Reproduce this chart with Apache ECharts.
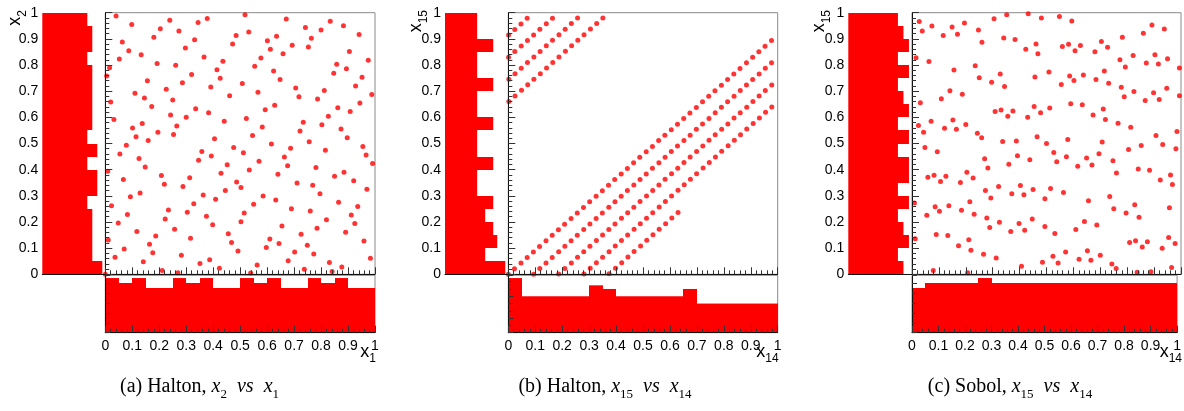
<!DOCTYPE html>
<html><head><meta charset="utf-8">
<script src="https://cdn.jsdelivr.net/npm/echarts@6.0.0/dist/echarts.min.js"></script>
<style>html,body{margin:0;padding:0;background:#fff}#c{width:1184px;height:411px}</style>
</head><body><div id="c"></div>
<script>
// ---------- data ----------
const binEdges = [0,0.05,0.1,0.15,0.2,0.25,0.3,0.35,0.4,0.45,0.5,0.55,0.6,0.65,0.7,0.75,0.8,0.85,0.9,0.95];
const BIN = 0.05;

const haltonX1Counts  = [11,10,11,9,9, 11,10,11,9,9, 11,10,11,9,9, 11,10,11,9,9];
const haltonX2Counts  = [12,10,10,10,10,9,11,11,9,11,9,10,10,10,10,10,9,10,10,9];
const halton14Counts  = [15,10,10,10,10,10,13,12,10,10,10,10,10,12,8,8,8,8,8,8];
const halton15Counts  = [15,10,13,12,10,12,8,8,12,8,8,12,8,8,12,8,8,12,8,8];
const sobol14Counts   = [9,10,10,10,10,11,10,10,10,10,10,10,10,10,10,10,10,10,10,10];
const sobol15Counts   = [10,9,11,10,9,11,9,11,11,9,11,9,11,10,9,11,9,11,10,9];

const haltonA = [[0,0],
[0.040,0.987],[0.098,0.955],[0.239,0.971],[0.344,0.963],[0.378,0.978],[0.204,0.939],[0.273,0.930],[0.180,0.906],[0.331,0.897],[0.485,0.913],[0.063,0.888],[0.472,0.880],[0.297,0.865],[0.087,0.855],[0.133,0.839],[0.366,0.831],[0.052,0.823],[0.436,0.814],[0.192,0.806],[0.261,0.799],[0.016,0.790],[0.414,0.782],[0.005,0.758],[0.320,0.764],[0.426,0.749],[0.156,0.740],[0.286,0.732],[0.391,0.716],[0.226,0.707],[0.110,0.692],[0.461,0.683],[0.145,0.674],[0.250,0.666],[0.020,0.659],[0.172,0.641],[0.335,0.633],[0.383,0.618],[0.242,0.609],[0.300,0.600],[0.032,0.592],[0.441,0.585],[0.137,0.576],[0.265,0.567],[0.101,0.559],[0.195,0.543],[0.253,0.534],[0.114,0.526],[0.405,0.518],[0.159,0.511],
[0.518,0.992],[0.671,0.976],[0.834,0.967],[0.742,0.943],[0.800,0.934],[0.883,0.950],[0.532,0.926],[0.635,0.910],[0.601,0.893],[0.764,0.902],[0.941,0.917],[0.693,0.876],[0.753,0.869],[0.612,0.860],[0.659,0.843],[0.905,0.852],[0.577,0.827],[0.975,0.818],[0.858,0.803],[0.554,0.795],[0.894,0.786],[0.624,0.777],[0.847,0.769],[0.952,0.753],[0.648,0.745],[0.508,0.729],[0.928,0.720],[0.706,0.712],[0.812,0.703],[0.566,0.696],[0.988,0.687],[0.718,0.679],[0.787,0.670],[0.944,0.655],[0.628,0.646],[0.862,0.637],[0.593,0.629],[0.908,0.622],[0.523,0.596],[0.827,0.604],[0.734,0.581],[0.803,0.572],[0.582,0.563],[0.874,0.555],[0.722,0.548],[0.546,0.531],[0.897,0.522],[0.756,0.507],
[0.078,0.493],[0.054,0.460],[0.125,0.443],[0.358,0.469],[0.393,0.452],[0.476,0.485],[0.346,0.436],[0.148,0.410],[0.452,0.419],[0.009,0.394],[0.429,0.386],[0.208,0.378],[0.313,0.369],[0.067,0.362],[0.487,0.353],[0.219,0.344],[0.288,0.336],[0.445,0.320],[0.363,0.303],[0.129,0.311],[0.093,0.296],[0.409,0.287],[0.023,0.262],[0.328,0.270],[0.234,0.246],[0.082,0.229],[0.304,0.237],[0.375,0.222],[0.222,0.211],[0.048,0.196],[0.398,0.189],[0.257,0.172],[0.117,0.164],[0.187,0.146],[0.456,0.155],[0.011,0.131],[0.316,0.138],[0.468,0.122],[0.164,0.115],[0.070,0.097],[0.492,0.089],[0.176,0.082],[0.282,0.073],[0.036,0.065],[0.387,0.056],[0.141,0.048],[0.351,0.041],[0.423,0.023],[0.211,0.015],[0.269,0.006],
[0.616,0.498],[0.687,0.482],[0.512,0.465],[0.816,0.474],[0.955,0.489],[0.967,0.456],[0.664,0.448],[0.570,0.432],[0.991,0.424],[0.676,0.415],[0.534,0.399],[0.781,0.408],[0.640,0.382],[0.850,0.375],[0.885,0.390],[0.921,0.358],[0.503,0.332],[0.711,0.349],[0.769,0.340],[0.970,0.325],[0.796,0.308],[0.585,0.299],[0.632,0.284],[0.550,0.268],[0.865,0.275],[0.936,0.259],[0.690,0.251],[0.760,0.242],[0.515,0.234],[0.912,0.227],[0.503,0.201],[0.820,0.209],[0.925,0.194],[0.655,0.185],[0.785,0.176],[0.891,0.161],[0.726,0.153],[0.610,0.135],[0.959,0.127],[0.644,0.118],[0.749,0.111],[0.597,0.102],[0.702,0.085],[0.773,0.078],[0.983,0.061],[0.678,0.052],[0.831,0.045],[0.563,0.036],[0.877,0.028],[0.738,0.019],[0.841,0.011],[0.539,0.005]];

const haltonB = [[0,0],
[0.023,0.021],[0.047,0.043],[0.070,0.064],[0.093,0.085],[0.116,0.106],[0.140,0.128],[0.163,0.149],[0.186,0.170],[0.209,0.191],[0.233,0.213],[0.256,0.234],[0.279,0.255],[0.302,0.277],[0.326,0.298],[0.349,0.319],[0.372,0.340],[0.395,0.362],[0.419,0.383],[0.442,0.404],[0.465,0.426],[0.488,0.447],[0.512,0.468],[0.535,0.489],[0.558,0.511],[0.581,0.532],[0.605,0.553],[0.628,0.574],[0.651,0.596],[0.674,0.617],[0.698,0.638],[0.721,0.660],[0.744,0.681],[0.767,0.702],[0.791,0.723],[0.814,0.745],[0.837,0.766],[0.860,0.787],[0.884,0.809],[0.907,0.830],[0.930,0.851],[0.953,0.872],[0.977,0.894],
[0.001,0.915],[0.024,0.936],[0.047,0.957],[0.070,0.979],
[0.094,0.000],[0.117,0.022],[0.140,0.043],[0.163,0.064],[0.187,0.086],[0.210,0.107],[0.233,0.128],[0.256,0.149],[0.280,0.171],[0.303,0.192],[0.326,0.213],[0.349,0.234],[0.373,0.256],[0.396,0.277],[0.419,0.298],[0.442,0.320],[0.466,0.341],[0.489,0.362],[0.512,0.383],[0.535,0.405],[0.559,0.426],[0.582,0.447],[0.605,0.469],[0.628,0.490],[0.652,0.511],[0.675,0.532],[0.698,0.554],[0.721,0.575],[0.745,0.596],[0.768,0.618],[0.791,0.639],[0.814,0.660],[0.838,0.681],[0.861,0.703],[0.884,0.724],[0.907,0.745],[0.931,0.766],[0.954,0.788],[0.977,0.809],
[0.001,0.830],[0.024,0.852],[0.048,0.873],[0.071,0.894],[0.094,0.915],[0.117,0.937],[0.141,0.958],[0.164,0.979],
[0.187,0.001],[0.210,0.022],[0.234,0.043],[0.257,0.065],[0.280,0.086],[0.303,0.107],[0.327,0.129],[0.350,0.150],[0.373,0.171],[0.396,0.192],[0.420,0.214],[0.443,0.235],[0.466,0.256],[0.489,0.278],[0.513,0.299],[0.536,0.320],[0.559,0.341],[0.582,0.363],[0.606,0.384],[0.629,0.405],[0.652,0.427],[0.675,0.448],[0.699,0.469],[0.722,0.490],[0.745,0.512],[0.768,0.533],[0.792,0.554],[0.815,0.575],[0.838,0.597],[0.861,0.618],[0.885,0.639],[0.908,0.661],[0.931,0.682],[0.954,0.703],[0.978,0.724],
[0.002,0.746],[0.025,0.767],[0.048,0.788],[0.071,0.810],[0.095,0.831],[0.118,0.852],[0.141,0.874],[0.164,0.895],[0.188,0.916],[0.211,0.937],[0.234,0.959],[0.257,0.980],
[0.281,0.001],[0.304,0.023],[0.327,0.044],[0.350,0.065],[0.374,0.086],[0.397,0.108],[0.420,0.129],[0.443,0.150],[0.467,0.172],[0.490,0.193],[0.513,0.214],[0.536,0.235],[0.560,0.257],[0.583,0.278],[0.606,0.299],[0.630,0.321],[0.653,0.342],[0.676,0.363],[0.699,0.384],[0.723,0.406],[0.746,0.427],[0.769,0.448],[0.792,0.470],[0.816,0.491],[0.839,0.512],[0.862,0.533],[0.885,0.555],[0.909,0.576],[0.932,0.597],[0.955,0.619],[0.978,0.640],
[0.002,0.661],[0.025,0.682],[0.049,0.704],[0.072,0.725],[0.095,0.746],[0.119,0.767],[0.142,0.789],[0.165,0.810],[0.188,0.831],[0.212,0.853],[0.235,0.874],[0.258,0.895],[0.281,0.916],[0.305,0.938],[0.328,0.959],[0.351,0.980],
[0.374,0.002],[0.398,0.023],[0.421,0.044],[0.444,0.066],[0.467,0.087],[0.491,0.108],[0.514,0.130],[0.537,0.151],[0.560,0.172],[0.584,0.193],[0.607,0.215],[0.630,0.236]];

const sobolC = [[0.5,0.5],
[0.027,0.966],[0.038,0.930],[0.074,0.949],[0.116,0.913],[0.149,0.945],[0.169,0.918],[0.195,0.961],[0.247,0.934],[0.260,0.887],[0.305,0.977],[0.352,0.992],[0.341,0.903],[0.383,0.898],[0.432,0.996],[0.481,0.980],[0.461,0.880],[0.423,0.860],[0.468,0.843],[0.015,0.828],[0.063,0.813],[0.156,0.781],[0.235,0.797],[0.328,0.766],[0.250,0.751],[0.296,0.734],[0.344,0.718],[0.457,0.754],[0.141,0.702],[0.187,0.688],[0.109,0.671],[0.031,0.656],[0.309,0.622],[0.331,0.628],[0.375,0.624],[0.356,0.604],[0.454,0.641],[0.430,0.600],[0.478,0.618],[0.071,0.585],[0.152,0.590],[0.200,0.573],[0.024,0.569],[0.121,0.558],[0.165,0.554],[0.043,0.543],[0.243,0.539],[0.259,0.522],[0.337,0.508],[0.388,0.510],[0.465,0.526],
[0.548,0.985],[0.594,0.968],[0.892,0.953],[0.938,0.938],[0.860,0.921],[0.782,0.906],[0.704,0.890],[0.559,0.871],[0.582,0.879],[0.626,0.875],[0.606,0.855],[0.680,0.851],[0.727,0.868],[0.773,0.820],[0.793,0.792],[0.822,0.836],[0.903,0.839],[0.871,0.808],[0.916,0.804],[0.950,0.824],[0.994,0.789],[0.509,0.773],[0.586,0.758],[0.602,0.741],[0.637,0.762],[0.684,0.745],[0.715,0.777],[0.731,0.730],[0.555,0.726],[0.778,0.715],[0.825,0.699],[0.789,0.679],[0.898,0.694],[0.947,0.711],[0.994,0.683],[0.867,0.664],[0.919,0.668],[0.512,0.636],[0.590,0.652],[0.633,0.648],[0.673,0.609],[0.711,0.632],[0.719,0.592],[0.766,0.577],[0.813,0.562],[0.907,0.531],[0.985,0.546],[0.579,0.515],[0.707,0.506],
[0.048,0.485],[0.094,0.468],[0.392,0.453],[0.438,0.438],[0.360,0.421],[0.282,0.406],[0.204,0.390],[0.059,0.371],[0.082,0.379],[0.126,0.375],[0.106,0.355],[0.180,0.351],[0.227,0.368],[0.273,0.320],[0.293,0.292],[0.322,0.336],[0.403,0.339],[0.371,0.308],[0.416,0.304],[0.450,0.324],[0.494,0.289],[0.009,0.273],[0.086,0.258],[0.102,0.241],[0.137,0.262],[0.184,0.245],[0.215,0.277],[0.231,0.230],[0.055,0.226],[0.278,0.215],[0.325,0.199],[0.289,0.179],[0.398,0.194],[0.447,0.211],[0.494,0.183],[0.367,0.164],[0.419,0.168],[0.012,0.136],[0.090,0.152],[0.133,0.148],[0.173,0.109],[0.211,0.132],[0.219,0.092],[0.266,0.077],[0.313,0.062],[0.407,0.031],[0.485,0.046],[0.079,0.015],[0.207,0.006],[0.270,0.442],
[0.527,0.466],[0.538,0.430],[0.574,0.449],[0.616,0.413],[0.649,0.445],[0.669,0.418],[0.695,0.461],[0.747,0.434],[0.760,0.387],[0.805,0.477],[0.852,0.492],[0.841,0.403],[0.883,0.398],[0.932,0.496],[0.981,0.480],[0.961,0.380],[0.923,0.360],[0.968,0.343],[0.515,0.328],[0.563,0.313],[0.656,0.281],[0.735,0.297],[0.828,0.266],[0.750,0.251],[0.796,0.234],[0.844,0.218],[0.957,0.254],[0.641,0.202],[0.687,0.188],[0.609,0.171],[0.531,0.156],[0.809,0.122],[0.831,0.128],[0.875,0.124],[0.856,0.104],[0.954,0.141],[0.930,0.100],[0.978,0.118],[0.571,0.085],[0.652,0.090],[0.700,0.073],[0.524,0.069],[0.621,0.058],[0.665,0.054],[0.543,0.043],[0.743,0.039],[0.759,0.022],[0.837,0.008],[0.888,0.010],[0.965,0.026]];

const captionParts = [
  ['(a) Halton, ', '2', '1'],
  ['(b) Halton, ', '15', '14'],
  ['(c) Sobol, ', '15', '14']
];
const axisSubs = [['1','2'],['14','15'],['14','15']];

// ---------- layout ----------
const SANS = 'Liberation Sans, Arial, Helvetica, sans-serif';
const SERIF = 'Liberation Serif, Times New Roman, serif';
const geo = [
  {lh:42.3, sx:105.3, sw:269.7, cx:199.5, ytx:2.5},
  {lh:445,  sx:508.3, sw:269.4, cx:605,   ytx:403.5},
  {lh:848.3,sx:912,   sw:269,   cx:1010,  ytx:806.5}
];
const TOP = 12.7, H = 261.6, BTOP = 275.3, BH = 57.4;
const panels = [
  {pts:haltonA, bottom:haltonX1Counts, left:haltonX2Counts},
  {pts:haltonB, bottom:halton14Counts, left:halton15Counts},
  {pts:sobolC,  bottom:sobol14Counts,  left:sobol15Counts}
];

const axLine = {show:true, lineStyle:{color:'#111', width:1}};
const tickIn = {show:true, inside:true, length:7, lineStyle:{color:'#333', width:1}};
const minorIn = {show:true, splitNumber:5, length:4, lineStyle:{color:'#333', width:1}};
const noSplit = {show:false};
const lab = {color:'#000', fontSize:14, fontFamily:SANS};
const RED = '#ff0000';

// vertical histogram bin (bottom panels): value(0)=bin start, value(1)=count
function vBin(params, api) {
  const x0 = api.value(0), c = api.value(1);
  const a = api.coord([x0, 0]), b = api.coord([x0 + BIN, c]);
  const l = Math.round(a[0]), r = Math.round(b[0]);
  return {type:'rect', shape:{x:l, y:b[1], width:r - l, height:a[1] - b[1]}, style:{fill:RED}};
}
// horizontal histogram bin (left panels): value(0)=bin start, value(1)=count
function hBin(params, api) {
  const y0 = api.value(0), c = api.value(1);
  const a = api.coord([0, y0]), b = api.coord([c, y0 + BIN]);
  const t = Math.round(b[1]), btm = Math.round(a[1]);
  return {type:'rect', shape:{x:a[0], y:t, width:b[0] - a[0], height:btm - t}, style:{fill:RED}};
}

const grid = [], xAxis = [], yAxis = [], series = [], graphic = [];
panels.forEach((p, i) => {
  const g = geo[i];
  grid.push({left:g.lh, top:TOP, width:g.sx - g.lh, height:H});
  grid.push({left:g.sx, top:TOP, width:g.sw, height:H, show:true, borderColor:'#8a8a8a', borderWidth:1});
  grid.push({left:g.sx, top:BTOP, width:g.sw, height:BH, show:true, borderColor:'#8a8a8a', borderWidth:1});
  const gi = 3 * i;
  const lMax = Math.max(...p.left) * 1.05;
  const bMax = Math.max(...p.bottom) * 1.05;

  xAxis.push({gridIndex:gi, type:'value', min:0, max:lMax, z:5, axisLine:axLine, axisTick:{show:false}, axisLabel:{show:false}, splitLine:noSplit});
  xAxis.push({gridIndex:gi+1, type:'value', min:0, max:1, interval:0.1, z:5, axisLine:axLine, axisTick:tickIn, minorTick:minorIn, axisLabel:{show:false}, splitLine:noSplit});
  xAxis.push({gridIndex:gi+2, type:'value', min:0, max:1, interval:0.1, z:5, axisLine:axLine, axisTick:tickIn, minorTick:minorIn, axisLabel:Object.assign({margin:6}, lab), splitLine:noSplit});
  yAxis.push({gridIndex:gi, type:'value', min:0, max:1, interval:0.1, axisLine:{show:false}, axisTick:{show:false}, axisLabel:Object.assign({margin:4}, lab), splitLine:noSplit});
  yAxis.push({gridIndex:gi+1, type:'value', min:0, max:1, interval:0.1, z:5, axisLine:axLine, axisTick:tickIn, minorTick:minorIn, axisLabel:{show:false}, splitLine:noSplit});
  yAxis.push({gridIndex:gi+2, type:'value', min:0, max:bMax, interval:2, z:5, axisLine:axLine, axisTick:{show:true, inside:true, length:5, lineStyle:{color:'#333'}}, axisLabel:{show:false}, splitLine:noSplit});

  series.push({type:'custom', xAxisIndex:3*i, yAxisIndex:3*i, renderItem:hBin, encode:{x:1, y:0},
    data:binEdges.map((e, k) => [e, p.left[k]]), silent:true});
  series.push({type:'scatter', xAxisIndex:3*i+1, yAxisIndex:3*i+1, data:p.pts, symbol:'circle', symbolSize:5, itemStyle:{color:RED}, silent:true});
  series.push({type:'custom', xAxisIndex:3*i+2, yAxisIndex:3*i+2, renderItem:vBin, encode:{x:0, y:1},
    data:binEdges.map((e, k) => [e, p.bottom[k]]), silent:true});

  const titleRich = {
    x:{fontSize:18, fontFamily:SANS, lineHeight:26, verticalAlign:'middle', fill:'#000'},
    s:{fontSize:12, fontFamily:SANS, lineHeight:26, verticalAlign:'bottom', fill:'#000'}
  };
  graphic.push({type:'text', x:g.sx + g.sw + 1, y:339, z:10, style:{text:'{x|x}{s|' + axisSubs[i][0] + '}', rich:titleRich, align:'right', verticalAlign:'top', fill:'#000'}});
  graphic.push({type:'text', x:g.ytx, y:10, rotation:Math.PI/2, z:10, style:{text:'{x|x}{s|' + axisSubs[i][1] + '}', rich:titleRich, align:'right', verticalAlign:'top', fill:'#000'}});
  const c = captionParts[i];
  graphic.push({type:'text', x:g.cx, y:373, z:10, style:{
    text:'{n|' + c[0] + '}{i|x}{s|' + c[1] + '}{n|  }{i|vs}{n|  }{i|x}{s|' + c[2] + '}',
    align:'center', verticalAlign:'top', fill:'#000',
    rich:{
      n:{fontSize:20, fontFamily:SERIF, lineHeight:28, verticalAlign:'middle', fill:'#000'},
      i:{fontSize:20, fontFamily:SERIF, fontStyle:'italic', lineHeight:28, verticalAlign:'middle', fill:'#000'},
      s:{fontSize:13, fontFamily:SERIF, lineHeight:28, verticalAlign:'bottom', fill:'#000'}
    }}});
});

const chart = echarts.init(document.getElementById('c'), null, {renderer:'canvas'});
chart.setOption({animation:false, backgroundColor:'#fff', grid, xAxis, yAxis, series, graphic});
</script>
</body></html>
